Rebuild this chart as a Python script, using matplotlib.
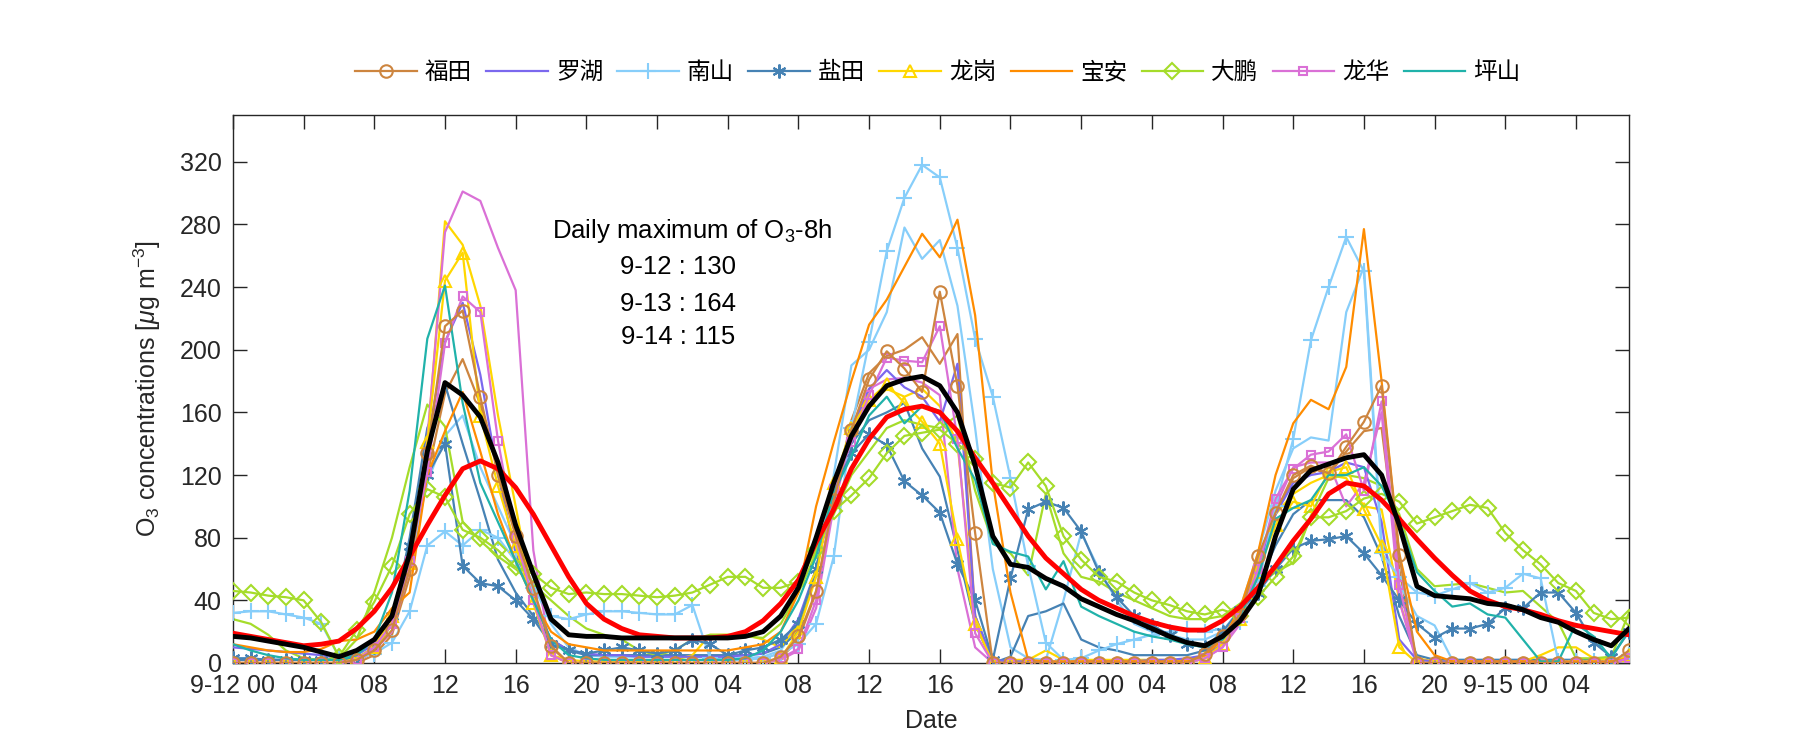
import matplotlib
matplotlib.use('Agg')
import matplotlib.pyplot as plt
import numpy as np

plt.rcParams.update({
    'font.family': ['Liberation Sans', 'Noto Sans CJK SC', 'DejaVu Sans'],
    'mathtext.fontset': 'custom',
    'mathtext.rm': 'Liberation Sans',
    'mathtext.it': 'Liberation Sans:italic',
    'mathtext.default': 'regular',
})

TXT = '#262626'

hours = np.arange(80)
tick_pos = list(range(0, 80, 4))
tick_lbls = ['9-12 00', '04', '08', '12', '16', '20',
             '9-13 00', '04', '08', '12', '16', '20',
             '9-14 00', '04', '08', '12', '16', '20',
             '9-15 00', '04']

# first site of each district (legend entries)
futian = [0, 0, 0, 0, 0, 0, 0, 2, 8, 21, 60, 134, 215, 225, 170, 120, 81, 48, 11,
          0, 0, 0, 0, 0, 0, 0, 0, 0, 0, 0, 0,
          4, 17, 46, 104, 149, 181, 199, 188, 173, 237, 177, 83,
          0, 0, 0, 0, 0, 0, 0, 0, 0, 0, 0, 0,
          6, 17, 31, 68, 96, 120, 126, 121, 138, 154, 177, 69,
          0, 0, 0, 0, 0, 0, 0, 0, 0, 0, 0, 0, 8]
luohu = [10, 9, 8, 7, 6, 5, 3, 5, 12, 30, 60, 140, 205, 230, 184, 120, 70, 40, 15,
         8, 6, 5, 5, 4, 4, 4, 4, 4, 4, 5, 6,
         12, 28, 60, 110, 150, 175, 187, 176, 170, 154, 191, 30,
         2, 1, 1, 1, 1, 1, 1, 1, 1, 2, 2, 3,
         5, 12, 28, 58, 95, 115, 120, 122, 128, 125, 90, 15,
         2, 1, 1, 1, 1, 1, 1, 1, 1, 1, 1, 1, 4]
nanshan = [32, 33, 33, 31, 29, 25, 4, 3, 6, 13, 33, 75, 84, 75, 85, 80, 65, 48, 30,
           28, 31, 33, 33, 32, 31, 31, 37, 3, 2, 2, 3,
           6, 12, 25, 68, 150, 205, 263, 297, 318, 310, 265, 207,
           170, 118, 62, 13, 2, 3, 8, 12, 15, 18, 20, 22,
           20, 22, 26, 49, 100, 143, 206, 240, 272, 250, 70, 55,
           45, 43, 47, 51, 45, 48, 57, 54, 1, 1, 1, 1, 5]
yantian = [3, 3, 2, 2, 2, 2, 2, 3, 10, 30, 75, 120, 140, 62, 51, 49, 40, 28, 12,
           8, 6, 8, 10, 8, 6, 8, 15, 12, 5, 8, 10,
           15, 25, 60, 110, 134, 146, 139, 116, 107, 96, 63, 40,
           2, 54, 98, 103, 99, 84, 58, 42, 30, 24, 18, 12,
           10, 20, 34, 45, 60, 73, 78, 79, 81, 70, 56, 40,
           25, 16, 22, 22, 25, 35, 35, 45, 45, 32, 13, 4, 20]
longgang = [0, 0, 0, 0, 0, 0, 0, 3, 10, 30, 64, 141, 244, 262, 158, 113, 75, 38, 5,
            0, 0, 0, 0, 0, 0, 0, 0, 0, 0, 0, 0,
            3, 20, 55, 115, 150, 168, 178, 166, 154, 140, 79, 25,
            0, 0, 0, 0, 0, 0, 0, 0, 0, 0, 0, 0,
            3, 12, 28, 58, 88, 103, 100, 122, 125, 98, 75, 10,
            0, 0, 0, 0, 0, 0, 0, 0, 0, 0, 0, 0, 5]
baoan = [12, 10, 8, 7, 7, 9, 14, 15, 20, 35, 45, 120, 148, 173, 135, 95, 65, 40, 20,
         12, 10, 8, 8, 8, 8, 8, 8, 8, 8, 10, 12,
         20, 45, 100, 141, 180, 216, 232, 253, 274, 259, 283, 222,
         115, 45, 2, 1, 1, 1, 1, 1, 1, 1, 1, 1,
         5, 15, 35, 70, 120, 153, 168, 162, 189, 277, 180, 70,
         20, 5, 1, 1, 1, 1, 1, 1, 1, 1, 1, 1, 3]
dapeng = [46, 45, 43, 42, 40, 26, 4, 21, 39, 62, 95, 111, 106, 85, 80, 72, 61, 57, 48,
          44, 45, 44, 44, 43, 42, 43, 45, 50, 55, 55, 48,
          48, 52, 72, 97, 107, 118, 134, 145, 147, 149, 140, 130,
          115, 112, 128, 113, 81, 66, 55, 52, 45, 40, 37, 33,
          31, 34, 30, 42, 55, 68, 93, 93, 97, 105, 108, 103,
          89, 93, 97, 101, 99, 83, 72, 63, 51, 46, 32, 28, 29]
longhua = [0, 0, 0, 0, 0, 0, 0, 2, 10, 25, 65, 122, 204, 234, 224, 142, 80, 40, 5,
           0, 0, 0, 0, 0, 0, 0, 0, 0, 0, 0, 0,
           3, 9, 40, 111, 141, 171, 195, 193, 192, 215, 143, 19,
           0, 0, 0, 0, 0, 0, 0, 0, 0, 0, 0, 0,
           3, 10, 29, 60, 105, 124, 133, 135, 146, 110, 167, 50,
           0, 0, 0, 0, 0, 0, 0, 0, 0, 0, 0, 0, 3]
pingshan = [12, 8, 5, 3, 2, 2, 2, 5, 15, 45, 110, 207, 241, 166, 115, 90, 65, 40, 15,
            5, 3, 2, 2, 2, 2, 2, 2, 2, 2, 3, 8,
            20, 40, 68, 109, 132, 158, 170, 153, 164, 161, 137, 117,
            76, 71, 68, 47, 65, 36, 30, 25, 20, 17, 15, 12,
            10, 15, 30, 55, 92, 99, 104, 120, 120, 125, 113, 90,
            58, 46, 36, 38, 31, 29, 15, 1, 1, 25, 17, 3, 21]

# second site of some districts (same colour, no marker)
futian2 = [0, 0, 0, 0, 0, 0, 0, 0, 5, 18, 55, 120, 172, 194, 165, 125, 85, 45, 10,
           0, 0, 0, 0, 0, 0, 0, 0, 0, 0, 0, 0,
           3, 15, 45, 105, 155, 185, 196, 200, 208, 191, 210, 30,
           0, 0, 0, 0, 0, 0, 0, 0, 0, 0, 0, 0,
           5, 15, 30, 65, 95, 118, 125, 120, 135, 148, 150, 60,
           0, 0, 0, 0, 0, 0, 0, 0, 0, 0, 0, 0, 6]
nanshan2 = [3, 3, 2, 2, 2, 2, 2, 3, 8, 25, 65, 115, 145, 158, 125, 100, 75, 50, 25,
            10, 5, 4, 4, 4, 4, 4, 4, 4, 3, 3, 4,
            8, 25, 60, 120, 190, 200, 224, 278, 258, 270, 228, 150,
            60, 10, 3, 2, 40, 83, 60, 40, 25, 20, 18, 15,
            15, 20, 35, 70, 110, 137, 144, 142, 224, 253, 77, 50,
            30, 24, 2, 2, 2, 2, 2, 2, 2, 2, 2, 2, 3]
yantian2 = [2, 2, 2, 2, 2, 2, 2, 3, 8, 25, 80, 150, 178, 140, 104, 66, 45, 30, 15,
            8, 5, 5, 5, 5, 5, 5, 5, 5, 5, 5, 6,
            10, 20, 60, 110, 140, 155, 160, 166, 137, 119, 72, 25,
            0, 4, 30, 33, 38, 15, 10, 8, 5, 5, 5, 5,
            8, 15, 30, 50, 75, 95, 104, 104, 104, 93, 68, 30,
            5, 2, 2, 2, 2, 2, 2, 2, 2, 2, 2, 2, 3]
longgang2 = [0, 0, 0, 0, 0, 0, 0, 0, 8, 25, 60, 140, 282, 267, 228, 158, 100, 40, 5,
             2, 1, 1, 1, 1, 1, 2, 5, 18, 18, 18, 15,
             10, 25, 60, 110, 145, 165, 175, 170, 175, 164, 140, 30,
             0, 2, 2, 8, 2, 2, 2, 2, 2, 2, 2, 2,
             5, 15, 30, 65, 95, 108, 115, 120, 118, 100, 98, 40,
             3, 1, 1, 1, 1, 1, 1, 5, 10, 10, 3, 2, 5]
dapeng2 = [28, 25, 18, 8, 3, 2, 3, 15, 45, 80, 125, 165, 151, 90, 78, 68, 60, 50, 40,
           30, 22, 18, 15, 8, 5, 8, 15, 18, 18, 17, 16,
           25, 45, 70, 95, 120, 135, 150, 155, 152, 150, 158, 110,
           77, 70, 56, 108, 70, 55, 52, 45, 40, 35, 30, 28,
           28, 30, 38, 50, 58, 64, 94, 118, 120, 118, 113, 95,
           60, 49, 50, 51, 48, 45, 46, 36, 26, 3, 3, 4, 32]
longhua2 = [0, 0, 0, 0, 0, 0, 0, 0, 8, 20, 60, 143, 275, 301, 295, 265, 238, 72, 5,
            0, 0, 0, 0, 0, 0, 0, 0, 0, 0, 0, 0,
            2, 8, 35, 100, 145, 175, 181, 182, 179, 171, 60, 10,
            0, 0, 0, 0, 0, 0, 0, 0, 0, 0, 0, 0,
            3, 10, 25, 55, 100, 125, 128, 128, 100, 115, 160, 40,
            0, 0, 0, 0, 0, 0, 0, 0, 0, 0, 0, 0, 2]

city_mean = [17, 16, 14, 12, 10, 7, 4, 8, 15, 30, 70, 135, 179, 171, 157, 128, 88, 57, 28,
             18, 17, 17, 16, 16, 16, 16, 16, 16, 16, 17, 20,
             30, 48, 80, 115, 145, 164, 177, 181, 183, 177, 160, 126,
             81, 63, 61, 54, 49, 41, 36, 31, 27, 22, 17, 13,
             11, 17, 27, 43, 81, 111, 123, 127, 131, 133, 120, 88,
             49, 43, 42, 41, 38, 37, 34, 29, 26, 20, 15, 11, 22]
city_smooth = [19, 17, 15, 13, 11, 12, 14, 22, 33, 48, 68, 88, 107, 124, 129, 124, 112, 95, 75,
               55, 38, 28, 22, 18, 17, 16, 16, 16, 17, 20, 27,
               38, 53, 77, 98, 124, 143, 157, 162, 164, 160, 148, 131,
               115, 98, 81, 67, 57, 47, 40, 35, 30, 26, 23, 21,
               21, 27, 36, 48, 62, 78, 92, 108, 115, 113, 104, 92,
               79, 67, 56, 46, 40, 36, 34, 31, 27, 24, 22, 20, 18]

names = ['福田', '罗湖', '南山', '盐田', '龙岗', '宝安', '大鹏', '龙华', '坪山']
main_series = [futian, luohu, nanshan, yantian, longgang, baoan, dapeng, longhua, pingshan]
colors = ['#CD853F', '#7B68EE', '#87CEFA', '#4682B4', '#FFD700',
          '#FF8C00', '#A5DC2A', '#DA70D6', '#20B2AA']
markers = ['o', None, '+', (6, 2, 0), '^', None, 'D', 's', None]
msizes = [9, 0, 11, 10, 9, 0, 8, 5.5, 0]

extra_series = [futian2, nanshan2, yantian2, longgang2, dapeng2, longhua2]
extra_colors = ['#CD853F', '#87CEFA', '#4682B4', '#FFD700', '#A5DC2A', '#DA70D6']

fig = plt.figure(figsize=(18, 7.5), dpi=100)
ax = fig.add_axes([0.1294, 0.116, 0.7756, 0.731])

for vals, c in zip(extra_series, extra_colors):
    ax.plot(hours, vals, color=c, lw=1.6, zorder=2)

handles = []
for vals, nm, c, mk, ms in zip(main_series, names, colors, markers, msizes):
    z = 3.5 if nm == '福田' else 3
    ln, = ax.plot(hours, vals, color=c, lw=1.6, marker=mk, ms=ms,
                  mfc='none', mec=c, mew=1.5, label=nm, zorder=z)
    handles.append(ln)

ax.plot(hours, city_smooth, color='#FF0000', lw=3.5, zorder=4)
ax.plot(hours, city_mean, color='black', lw=3.5, zorder=5)

ax.set_xlim(0, 79)
ax.set_ylim(0, 350)
ax.set_xticks(tick_pos)
ax.set_xticklabels(tick_lbls)
ax.set_yticks(np.arange(0, 321, 40))
ax.tick_params(direction='in', top=True, right=True, length=10, width=1,
               labelsize=18, colors=TXT, pad=8)
for sp in ax.spines.values():
    sp.set_color(TXT)
    sp.set_linewidth(1)

ax.set_xlabel('Date', fontsize=18, color=TXT, labelpad=8)
ax.set_ylabel(r'O$_3$ concentrations [$\mathit{\mu}$g m$^{-3}$]', fontsize=18,
              color=TXT, labelpad=12)

ax.text(26.0, 276, r'Daily maximum of O$_3$-8h', ha='center', va='center', fontsize=18.5)
ax.text(25.2, 253, '9-12 : 130', ha='center', va='center', fontsize=18.5)
ax.text(25.2, 229, '9-13 : 164', ha='center', va='center', fontsize=18.5)
ax.text(25.2, 208, '9-14 : 115', ha='center', va='center', fontsize=18.5)

ax.legend(handles=handles, ncol=9, loc='center', bbox_to_anchor=(0.505, 1.077),
          frameon=False, prop={'family': ['Noto Sans CJK SC'], 'size': 17},
          handlelength=2.6, handletextpad=0.35, columnspacing=0.6, numpoints=1)

fig.savefig('out.png', dpi=100)
